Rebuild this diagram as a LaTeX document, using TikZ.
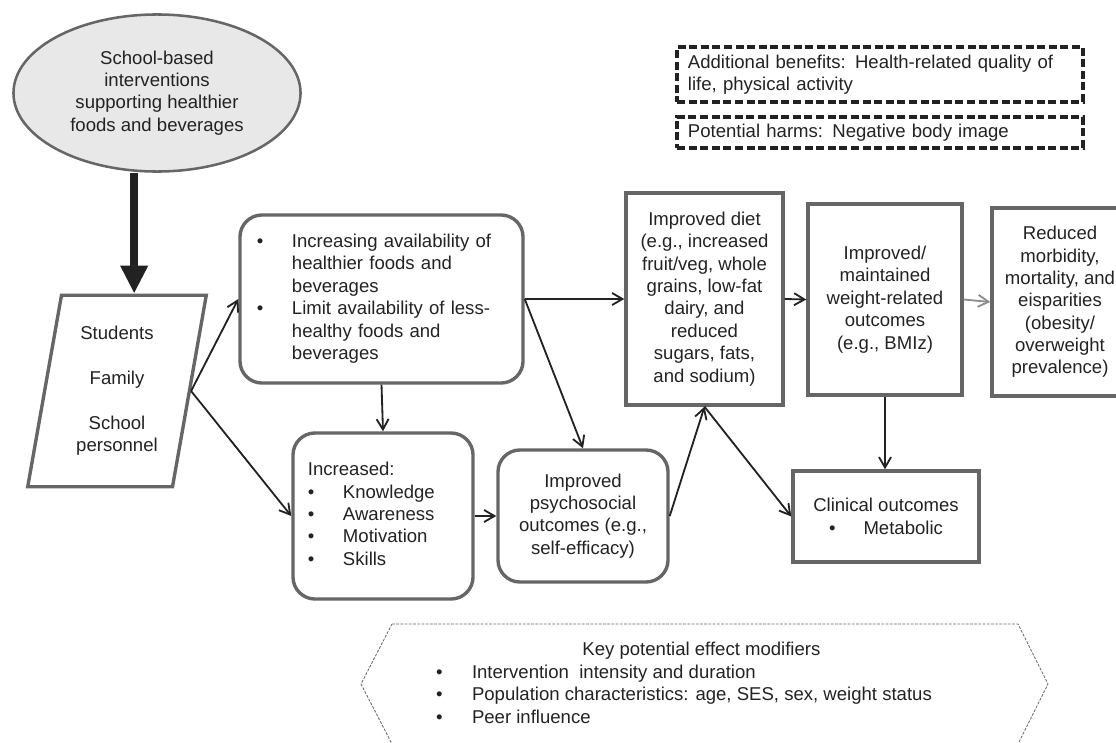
\documentclass[tikz,border=0pt]{standalone}
\usepackage{fontspec}
\setmainfont{Liberation Sans}
\usepackage{tikz}
\usetikzlibrary{shapes.geometric,arrows.meta}
\definecolor{boxgray}{HTML}{666666}
\definecolor{inkgray}{HTML}{222222}
\definecolor{fillgray}{HTML}{E8E8E8}
\definecolor{palearrow}{HTML}{8C8C8C}
\newcommand{\figfont}{\fontsize{13.2}{15.9}\selectfont}

\begin{document}
\begin{tikzpicture}[x=0.025cm,y=-0.025cm,font=\figfont,text=inkgray,
    box/.style={draw=boxgray,line width=2.4pt,align=center,inner sep=0pt},
    roundbox/.style={box,rounded corners=0.55cm},
    dashbox/.style={draw=inkgray,line width=2.4pt,dash pattern=on 0.2cm off 0.09cm,
        align=left,text width=9.6cm,inner xsep=0.275cm,inner ysep=0pt,minimum width=10.15cm},
    link/.style={draw=inkgray,line width=1.3pt,-{Straight Barb[length=0.26cm,width=0.3cm]}},
    palelink/.style={link,draw=palearrow},
    biglink/.style={draw=inkgray,line width=5.7pt,-{Triangle[length=0.7cm,width=0.65cm]}}]

    \useasboundingbox (0,0) rectangle (1116,742);

    % Intervention and target groups
    \node[ellipse,draw=boxgray,line width=1.8pt,fill=fillgray,inner sep=0pt,
        minimum width=7.175cm,minimum height=3.925cm,align=center] (ell) at (157,93)
        {School-based\\interventions\\supporting healthier\\foods and beverages};
    \node[box,trapezium,trapezium left angle=80,trapezium right angle=100,
        text width=2.775cm,inner xsep=0pt,inner ysep=0.78cm] (para) at (117,391)
        {Students\\[15.9pt]Family\\[15.9pt]School\\personnel};

    % Environment changes
    \node[roundbox,align=left,text width=6.225cm,inner xsep=0.425cm,
        minimum height=4.2cm] (inc) at (381.5,299) {
        \begin{tabular}{@{}p{0.875cm}@{}l@{}}
        \textbullet & Increasing availability of\\
         & healthier foods and\\
         & beverages\\
        \textbullet & Limit availability of less-\\
         & healthy foods and\\
         & beverages
        \end{tabular}
    };
    \node[roundbox,align=left,text width=3.75cm,inner xsep=0.375cm,
        minimum height=4.15cm] (incr) at (383,516) {
        \begin{tabular}{@{}p{0.875cm}@{}l@{}}
        \multicolumn{2}{@{}l@{}}{Increased:}\\
        \textbullet & Knowledge\\
        \textbullet & Awareness\\
        \textbullet & Motivation\\
        \textbullet & Skills
        \end{tabular}
    };
    \node[roundbox,minimum width=4.25cm,minimum height=3.3cm] (psych) at (583,516)
        {Improved\\psychosocial\\outcomes (e.g.,\\self-efficacy)};

    % Outcomes
    \node[box,minimum width=3.925cm,minimum height=5.3cm] (diet) at (704.5,299)
        {Improved diet\\(e.g., increased\\fruit/veg,\ whole\\grains, low-fat\\dairy, and\\reduced\\sugars, fats,\\and sodium)};
    \node[box,minimum width=3.85cm,minimum height=4.775cm] (weight) at (885,299.5)
        {Improved/\\maintained\\weight-related\\outcomes\\(e.g., BMIz)};
    \node[box,minimum width=3.4cm,minimum height=4.7cm] (red) at (1060,302)
        {Reduced\\morbidity,\\mortality, and\\eisparities\\(obesity/\\overweight\\prevalence)};
    \node[box,minimum width=4.65cm,minimum height=2.275cm] (clin) at (886,516.5)
        {Clinical outcomes\\\textbullet\hspace{0.7cm}Metabolic};

    % Side notes
    \node[dashbox,minimum height=1.375cm] (ben) at (880,74.5)
        {Additional benefits: Health-related\ quality of\\life, physical activity};
    \node[dashbox,minimum height=0.775cm] (harm) at (880,132.5)
        {Potential harms: Negative body image};

    % Effect modifiers
    \draw[boxgray,line width=0.6pt,dash pattern=on 2pt off 1pt]
        (392,624) -- (1018,624) -- (1048,684) -- (1018,744)
        -- (392,744) -- (361,684) -- cycle;
    \node[align=left,inner sep=0pt] (mod) at (686.5,685) {
        \begin{tabular}{@{}p{0.9cm}@{}l@{}}
        \multicolumn{2}{@{}c@{}}{\hspace*{0.875cm}Key potential effect modifiers}\\
        \textbullet & Intervention\ \ intensity and duration\\
        \textbullet & Population characteristics: age, SES, sex, weight status\\
        \textbullet & Peer influence
        \end{tabular}
    };

    % Connectors
    \draw[biglink] (para.top side |- ell.south) -- (para.top side);
    \draw[link] (para.east) -- (inc.west);
    \draw[link] (para.east) -- (incr.west);
    \draw[link] (inc.south) -- (incr.north);
    \draw[link] (inc.east) -- (diet.west);
    \draw[link] (inc.east) -- (psych.north);
    \draw[link] (incr.east) -- (psych.west);
    \draw[link] (psych.east) -- (diet.south);
    \draw[link] (diet.south) -- (clin.west);
    \draw[link] (diet.east) -- (weight.west);
    \draw[palelink] (weight.east) -- (red.west);
    \draw[link] (weight.south) -- (weight.south |- clin.north);

\end{tikzpicture}
\end{document}
